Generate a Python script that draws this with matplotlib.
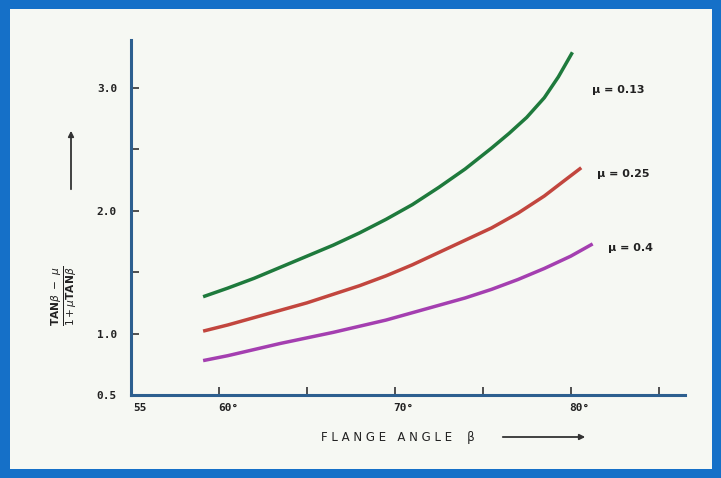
import matplotlib
matplotlib.use("Agg")
import matplotlib.pyplot as plt
import matplotlib.transforms as mtransforms
from matplotlib.patches import Rectangle, FancyArrowPatch

# Data (flange angle in degrees, ratio value)
beta_013 = [59.1, 60.5, 62.0, 63.5, 65.0, 66.5, 68.0, 69.5, 71.0, 72.5, 74.0, 75.5,
            76.5, 77.5, 78.5, 79.3, 80.1]
val_013 = [1.30, 1.37, 1.45, 1.54, 1.63, 1.72, 1.82, 1.93, 2.05, 2.19, 2.34, 2.51,
           2.63, 2.76, 2.92, 3.09, 3.29]
beta_025 = [59.1, 60.5, 62.0, 63.5, 65.0, 66.5, 68.0, 69.5, 71.0, 72.5, 74.0, 75.5,
            77.0, 78.5, 79.5, 80.6]
val_025 = [1.02, 1.07, 1.13, 1.19, 1.25, 1.32, 1.39, 1.47, 1.56, 1.66, 1.76, 1.86,
           1.98, 2.12, 2.23, 2.35]
beta_04 = [59.1, 60.5, 62.0, 63.5, 65.0, 66.5, 68.0, 69.5, 71.0, 72.5, 74.0, 75.5,
           77.0, 78.5, 80.0, 81.25]
val_04 = [0.78, 0.82, 0.87, 0.92, 0.965, 1.01, 1.06, 1.11, 1.17, 1.23, 1.29, 1.36,
          1.44, 1.53, 1.63, 1.73]

series_labels = ["\u03bc = 0.13", "\u03bc = 0.25", "\u03bc = 0.4"]
series_colors = ["#1e7a3c", "#c2463e", "#a43fb0"]

x_ticks = [55, 60, 70, 80]
x_ticklabels = ["55", "60\u00b0", "70\u00b0", "80\u00b0"]
x_minor = [65, 75, 85]
y_ticks = [0.5, 1.0, 2.0, 3.0]
y_ticklabels = ["0.5", "1.0", "2.0", "3.0"]
y_minor = [1.5, 2.5]

W, H = 721, 478
fig = plt.figure(figsize=(W / 100, H / 100), dpi=100)
fig.patch.set_facecolor("#1570c8")
bg = Rectangle((10 / W, 9 / H), 1 - 19 / W, 1 - 18 / H,
               transform=fig.transFigure, facecolor="#f6f8f3",
               edgecolor="none", zorder=-10)
fig.add_artist(bg)

ax = fig.add_axes([131 / W, 1 - 395 / H, (685 - 131) / W, (395 - 40) / H], zorder=5)
ax.set_facecolor("none")
ax.set_xlim(55, 86.5)
ax.set_ylim(0.5, 3.39)

for b, v, c in zip([beta_013, beta_025, beta_04], [val_013, val_025, val_04], series_colors):
    ax.plot(b, v, color=c, lw=2.5, solid_capstyle="butt", solid_joinstyle="round")

label_pos = [(81.2, 2.98), (81.5, 2.30), (82.1, 1.70)]
for (lx, ly), t in zip(label_pos, series_labels):
    ax.text(lx, ly, t, fontsize=8, fontweight="bold", color="#222222",
            family="DejaVu Sans", va="center", ha="left")

for s in ["top", "right"]:
    ax.spines[s].set_visible(False)
for s in ["left", "bottom"]:
    ax.spines[s].set_color("#2d5f8f")
    ax.spines[s].set_linewidth(2.2)

ax.set_xticks(x_ticks)
ax.set_xticklabels(x_ticklabels)
ax.set_xticks(x_minor, minor=True)
ax.set_yticks(y_ticks)
ax.set_yticklabels(y_ticklabels)
ax.set_yticks(y_minor, minor=True)
ax.tick_params(axis="x", which="both", direction="in", length=6, width=1.2,
               color="#333333", labelsize=8, pad=6)
ax.tick_params(axis="y", which="both", direction="in", length=6, width=1.2,
               color="#333333", labelsize=8, pad=10)
offset = mtransforms.ScaledTranslation(9 / 100, 0, fig.dpi_scale_trans)
for lab in ax.get_xticklabels():
    lab.set_transform(lab.get_transform() + offset)
for lab in ax.get_xticklabels() + ax.get_yticklabels():
    lab.set_fontweight("bold")
    lab.set_family("DejaVu Sans Mono")
    lab.set_color("#222222")

# x label and arrow
fig.text(398 / W, 1 - 438 / H, "F L A N G E   A N G L E    \u03b2", fontsize=8.5,
         family="DejaVu Sans", color="#222222", ha="center", va="center", zorder=6)
fig.add_artist(FancyArrowPatch(
    (500 / W, 1 - 437 / H), (588 / W, 1 - 437 / H), transform=fig.transFigure,
    arrowstyle="-|>", mutation_scale=8, color="#333333", lw=1.3, zorder=6))

# y label and arrow
fig.text(64 / W, 1 - 296 / H, r"$\frac{\mathbf{TAN}\beta\ -\ \mu}{1+\mu\mathbf{TAN}\beta}$",
         fontsize=11, color="#222222", rotation=90, ha="center", va="center", zorder=6)
fig.add_artist(FancyArrowPatch(
    (71 / W, 1 - 192 / H), (71 / W, 1 - 128 / H), transform=fig.transFigure,
    arrowstyle="-|>", mutation_scale=8, color="#333333", lw=1.3, zorder=6))

fig.savefig("out.png", dpi=100, facecolor=fig.get_facecolor())
